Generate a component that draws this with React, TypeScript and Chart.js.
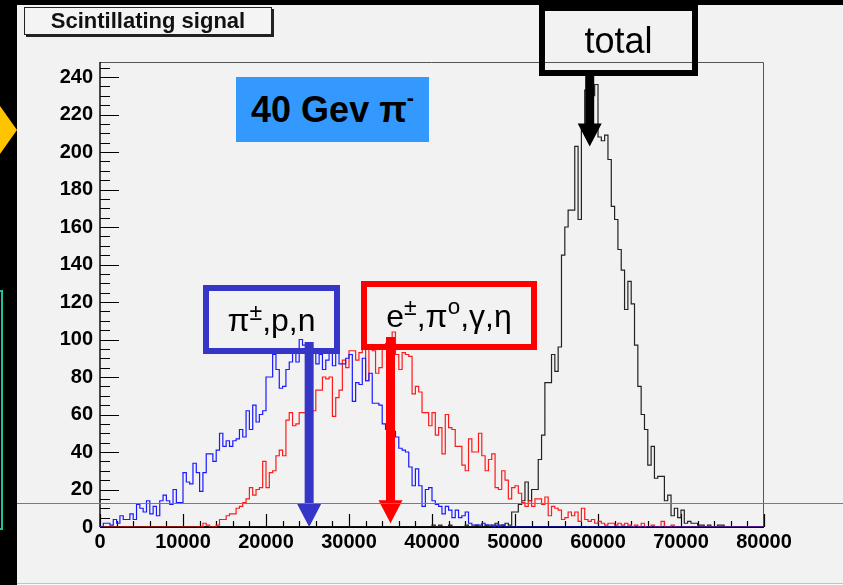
import React, { useEffect, useRef } from "react";
import { Chart, registerables } from "chart.js";

Chart.register(...registerables);

// ---- histogram binning / axes ----
const BIN_WIDTH = 400;
const X_MIN = 0;
const X_MAX = 80000;
const Y_MIN = 0;
const Y_MAX = 248;
const X_TICK_STEP = 10000;
const X_MINOR_STEP = 2000;
const Y_TICK_STEP = 20;
const Y_MINOR_STEP = 5;

// ---- series: counts per bin (200 bins of 400) ----
// hadronic component: pi+-, p, n  (blue)
const HADRONIC_COUNTS = [
  0, 2, 2, 1, 4, 2, 6, 4, 4, 7, 4, 12, 10, 8, 14, 7, 11, 6, 14, 17,
  14, 12, 20, 13, 13, 29, 24, 23, 34, 29, 19, 29, 39, 39, 35, 41, 50, 43, 46, 43,
  46, 47, 52, 48, 62, 52, 65, 56, 60, 62, 80, 80, 92, 84, 74, 75, 84, 88, 93, 88,
  100, 97, 95, 94, 93, 87, 92, 84, 89, 93, 86, 98, 87, 87, 90, 92, 67, 77, 76, 90,
  78, 82, 66, 66, 65, 55, 52, 52, 51, 48, 42, 41, 40, 32, 22, 31, 22, 11, 20, 21,
  14, 12, 11, 7, 11, 9, 5, 9, 5, 6, 8, 2, 1, 1, 1, 2, 1, 1, 0, 1,
  0, 1, 0, 0, 0, 0, 0, 0, 0, 0, 0, 0, 0, 0, 0, 0, 0, 0, 0, 0,
  0, 0, 0, 0, 0, 0, 0, 0, 0, 0, 0, 0, 0, 0, 0, 0, 0, 0, 0, 0,
  0, 0, 0, 0, 0, 0, 0, 0, 0, 0, 0, 0, 0, 0, 0, 0, 0, 0, 0, 0,
  0, 0, 0, 0, 0, 0, 0, 0, 0, 0, 0, 0, 0, 0, 0, 0, 0, 0, 0, 0,
];

// electromagnetic component: e+-, pi0, gamma, eta  (red)
const EM_COUNTS = [
  0, 0, 0, 0, 0, 0, 0, 0, 0, 0, 0, 0, 0, 0, 0, 0, 0, 0, 0, 0,
  0, 0, 0, 0, 0, 0, 0, 0, 0, 0, 0, 2, 1, 0, 0, 1, 4, 4, 6, 7,
  7, 10, 11, 13, 15, 21, 17, 20, 21, 35, 21, 29, 30, 38, 41, 38, 57, 61, 54, 55,
  61, 61, 60, 60, 62, 73, 73, 80, 79, 80, 59, 69, 73, 89, 85, 94, 94, 89, 93, 95,
  78, 95, 94, 82, 85, 95, 98, 100, 104, 92, 84, 93, 92, 91, 71, 75, 72, 61, 61, 54,
  61, 49, 53, 39, 60, 53, 52, 43, 43, 33, 30, 47, 40, 40, 50, 38, 30, 36, 39, 21,
  20, 30, 25, 15, 21, 22, 18, 13, 11, 14, 11, 15, 15, 12, 16, 6, 11, 10, 9, 4,
  5, 8, 6, 8, 3, 10, 4, 3, 4, 2, 3, 2, 1, 2, 2, 1, 2, 1, 2, 1,
  0, 1, 0, 2, 0, 0, 1, 0, 0, 3, 0, 0, 1, 0, 0, 0, 0, 0, 0, 0,
  0, 0, 0, 0, 0, 0, 0, 0, 0, 0, 0, 0, 0, 0, 0, 0, 0, 0, 0, 0,
];

// total scintillating signal  (black)
const TOTAL_COUNTS = [
  0, 0, 0, 0, 0, 0, 0, 0, 0, 0, 0, 0, 0, 0, 0, 0, 0, 0, 0, 0,
  0, 0, 0, 0, 0, 0, 0, 0, 0, 0, 0, 0, 0, 0, 0, 0, 0, 0, 0, 0,
  0, 0, 0, 0, 0, 0, 0, 0, 0, 0, 0, 0, 0, 0, 0, 0, 0, 0, 0, 0,
  0, 0, 0, 0, 0, 0, 0, 0, 0, 0, 0, 0, 0, 0, 0, 0, 0, 0, 0, 0,
  0, 0, 0, 0, 0, 0, 0, 0, 0, 0, 0, 0, 0, 0, 0, 0, 0, 0, 0, 0,
  1, 0, 1, 0, 0, 1, 0, 0, 0, 0, 1, 0, 0, 1, 0, 0, 1, 0, 1, 2,
  1, 1, 2, 1, 8, 8, 12, 14, 24, 14, 20, 20, 36, 49, 77, 77, 92, 83, 96, 145,
  160, 169, 169, 203, 164, 213, 233, 226, 230, 236, 208, 206, 209, 196, 171, 164, 148, 137, 116, 131,
  119, 97, 75, 60, 52, 33, 43, 26, 27, 27, 14, 17, 6, 10, 5, 9, 2, 3, 2, 2,
  1, 1, 0, 1, 0, 0, 1, 1, 0, 0, 0, 0, 0, 0, 0, 0, 0, 0, 0, 0,
];

// annotation arrows: target x (signal) and tip height (counts) for total, hadronic, em
const ARROW_X = [59000, 25200, 35000];
const ARROW_TIP_Y = [203, 0, 2];

const FONT = "'Liberation Sans', Arial, Helvetica, sans-serif";
const BLUE_BOX = "#3535c8";

function toSteps(counts: number[]) {
  const pts: { x: number; y: number }[] = [{ x: X_MIN, y: 0 }];
  counts.forEach((c, i) => pts.push({ x: X_MIN + i * BIN_WIDTH, y: c }));
  pts.push({ x: X_MIN + counts.length * BIN_WIDTH, y: counts[counts.length - 1] });
  return pts;
}

const frameTicksPlugin = {
  id: "frameTicks",
  beforeDatasetsDraw(chart: any) {
    const { ctx, chartArea: a, scales } = chart;
    const xs = scales.x;
    const ys = scales.y;
    ctx.save();
    ctx.strokeStyle = "#555";
    ctx.lineWidth = 1;
    ctx.beginPath();
    ctx.moveTo(a.left, a.top + 0.5);
    ctx.lineTo(a.right - 0.5, a.top + 0.5);
    ctx.lineTo(a.right - 0.5, a.bottom);
    ctx.stroke();
    ctx.strokeStyle = "#000";
    ctx.lineWidth = 1.4;
    ctx.beginPath();
    ctx.moveTo(a.left, a.top);
    ctx.lineTo(a.left, a.bottom);
    ctx.stroke();
    ctx.lineWidth = 2;
    ctx.beginPath();
    ctx.moveTo(a.left, a.bottom);
    ctx.lineTo(a.right, a.bottom);
    ctx.stroke();
    ctx.lineWidth = 1.2;
    ctx.beginPath();
    for (let v = Y_MIN; v <= Y_MAX; v += Y_MINOR_STEP) {
      const py = Math.round(ys.getPixelForValue(v)) + 0.5;
      const len = v % Y_TICK_STEP === 0 ? 19 : 10;
      ctx.moveTo(a.left, py);
      ctx.lineTo(a.left + len, py);
    }
    for (let v = X_MIN; v <= X_MAX; v += X_MINOR_STEP) {
      const px = Math.round(xs.getPixelForValue(v)) + 0.5;
      const len = v % X_TICK_STEP === 0 ? 13 : 6;
      ctx.moveTo(px, a.bottom);
      ctx.lineTo(px, a.bottom - len);
    }
    ctx.stroke();
    ctx.restore();
  },
};

const arrowsPlugin = {
  id: "arrows",
  afterDatasetsDraw(chart: any) {
    const { ctx, scales } = chart;
    const starts = [76, 342, 337];
    const colors = ["#000", BLUE_BOX, "#ff0000"];
    ctx.save();
    ARROW_X.forEach((xv, i) => {
      const x = scales.x.getPixelForValue(xv);
      const tip = scales.y.getPixelForValue(ARROW_TIP_Y[i]);
      const top = starts[i];
      const headLen = 23;
      const headHalf = 12;
      const shaftHalf = 4.5;
      ctx.fillStyle = colors[i];
      ctx.beginPath();
      ctx.moveTo(x - shaftHalf, top);
      ctx.lineTo(x + shaftHalf, top);
      ctx.lineTo(x + shaftHalf, tip - headLen);
      ctx.lineTo(x + headHalf, tip - headLen);
      ctx.lineTo(x, tip);
      ctx.lineTo(x - headHalf, tip - headLen);
      ctx.lineTo(x - shaftHalf, tip - headLen);
      ctx.closePath();
      ctx.fill();
    });
    ctx.restore();
  },
};

export default function App() {
  const ref = useRef<HTMLCanvasElement | null>(null);

  useEffect(() => {
    if (!ref.current) return;
    const tickFont = { family: FONT, size: 20, weight: "bold" as const };
    const common = {
      pointRadius: 0,
      pointHoverRadius: 0,
      fill: false,
      tension: 0,
      stepped: "before" as const,
      borderWidth: 1.2,
    };
    const chart = new Chart(ref.current, {
      type: "line",
      data: {
        datasets: [
          { ...common, label: "π±,p,n", data: toSteps(HADRONIC_COUNTS), borderColor: "#1a1aff" },
          { ...common, label: "e±,π0,γ,η", data: toSteps(EM_COUNTS), borderColor: "#ff1a1a" },
          { ...common, label: "total", data: toSteps(TOTAL_COUNTS), borderColor: "#222222" },
        ],
      },
      options: {
        responsive: false,
        maintainAspectRatio: false,
        animation: false,
        events: [],
        layout: { padding: { left: 0, right: 79, top: 62, bottom: 0 } },
        plugins: {
          legend: { display: false },
          tooltip: { enabled: false },
          title: { display: false },
        },
        scales: {
          x: {
            type: "linear",
            min: X_MIN,
            max: X_MAX,
            grid: { display: false, drawTicks: false },
            border: { display: false },
            ticks: {
              stepSize: X_TICK_STEP,
              autoSkip: false,
              maxRotation: 0,
              includeBounds: false,
              padding: 3,
              color: "#000",
              font: tickFont,
              callback: (v: any) => String(v),
            },
            afterFit: (s: any) => {
              s.height = 58;
            },
          },
          y: {
            type: "linear",
            min: Y_MIN,
            max: Y_MAX,
            grid: { display: false, drawTicks: false },
            border: { display: false },
            ticks: {
              stepSize: Y_TICK_STEP,
              autoSkip: false,
              includeBounds: false,
              padding: 7,
              color: "#000",
              font: tickFont,
              callback: (v: any) => (Number(v) % Y_TICK_STEP === 0 ? String(v) : ""),
            },
            afterFit: (s: any) => {
              s.width = 100;
            },
          },
        },
      },
      plugins: [frameTicksPlugin, arrowsPlugin],
    } as any);
    return () => chart.destroy();
  }, []);

  const sup = (txt: string, size: string, raise: string) => (
    <span style={{ fontSize: size, position: "relative", top: raise }}>{txt}</span>
  );

  return (
    <div
      style={{
        position: "fixed",
        left: 0,
        top: 0,
        width: 843,
        height: 585,
        background: "#f2f2f2",
        overflow: "hidden",
        fontFamily: FONT,
      }}
    >
      <div style={{ position: "absolute", left: 0, top: 0, width: 843, height: 5, background: "#000" }} />
      <div style={{ position: "absolute", left: 0, top: 0, width: 17, height: 585, background: "#000" }} />
      <svg style={{ position: "absolute", left: 0, top: 0 }} width={17} height={585}>
        <polygon points="0,106 17,130 0,154" fill="#ffc400" />
      </svg>
      <div
        style={{
          position: "absolute",
          left: -10,
          top: 290,
          width: 13,
          height: 240,
          border: "2px solid #1fbf9f",
          boxSizing: "border-box",
        }}
      />
      <div style={{ position: "absolute", left: 17, top: 583, width: 826, height: 1, background: "#c4c4c4" }} />
      <div style={{ position: "absolute", left: 17, top: 584, width: 826, height: 1, background: "#fafafa" }} />

      <canvas
        ref={ref}
        width={843}
        height={585}
        style={{ position: "absolute", left: 0, top: 0, width: 843, height: 585 }}
      />

      <div style={{ position: "absolute", left: 17, top: 503, width: 826, height: 1, background: "#7a7a7a" }} />

      {/* title box */}
      <div
        style={{
          position: "absolute",
          left: 24,
          top: 7,
          width: 248,
          height: 28,
          boxSizing: "border-box",
          border: "1px solid #222",
          boxShadow: "2px 2px 0 #222",
          background: "#f4f4f4",
          display: "flex",
          alignItems: "center",
          justifyContent: "center",
          fontWeight: "bold",
          fontSize: 22,
          lineHeight: 1,
          color: "#111",
        }}
      >
        Scintillating signal
      </div>

      {/* beam label */}
      <div
        style={{
          position: "absolute",
          left: 236,
          top: 77,
          width: 193,
          height: 65,
          background: "#3399ff",
          display: "flex",
          alignItems: "center",
          justifyContent: "center",
          fontWeight: "bold",
          fontSize: 36,
          lineHeight: 1,
          color: "#000",
          whiteSpace: "nowrap",
        }}
      >
        <span>
          40 Gev π{sup("-", "0.6em", "-0.75em")}
        </span>
      </div>

      {/* total box */}
      <div
        style={{
          position: "absolute",
          left: 539,
          top: 5,
          width: 159,
          height: 71,
          boxSizing: "border-box",
          border: "6px solid #000",
          display: "flex",
          alignItems: "center",
          justifyContent: "center",
          fontSize: 36,
          lineHeight: 1,
          color: "#000",
        }}
      >
        total
      </div>

      {/* hadronic box */}
      <div
        style={{
          position: "absolute",
          left: 203,
          top: 285,
          width: 137,
          height: 69,
          boxSizing: "border-box",
          border: `6px solid ${BLUE_BOX}`,
          display: "flex",
          alignItems: "center",
          justifyContent: "center",
          fontSize: 32,
          lineHeight: 1,
          color: "#000",
          whiteSpace: "nowrap",
        }}
      >
        <span>
          π{sup("±", "0.72em", "-0.45em")},p,n
        </span>
      </div>

      {/* em box */}
      <div
        style={{
          position: "absolute",
          left: 361,
          top: 281,
          width: 176,
          height: 69,
          boxSizing: "border-box",
          border: "6px solid #ff0000",
          display: "flex",
          alignItems: "center",
          justifyContent: "center",
          fontSize: 32,
          lineHeight: 1,
          color: "#000",
          whiteSpace: "nowrap",
        }}
      >
        <span>
          e{sup("±", "0.72em", "-0.5em")},π{sup("o", "0.7em", "-0.55em")},γ,η
        </span>
      </div>
    </div>
  );
}
